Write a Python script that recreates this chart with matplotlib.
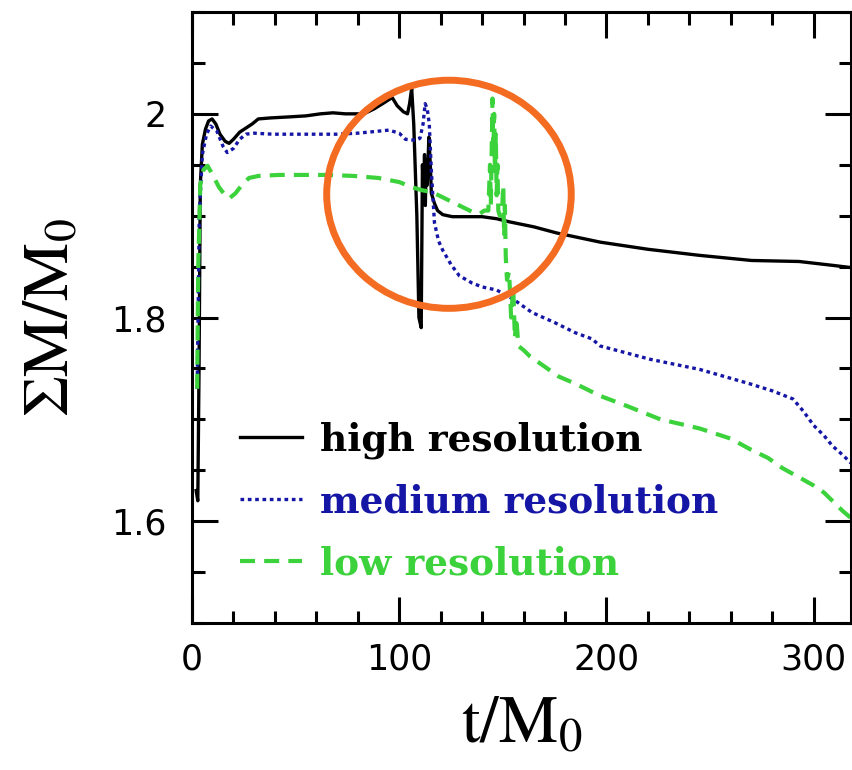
import numpy as np
import matplotlib
matplotlib.use("Agg")
import matplotlib.pyplot as plt
from matplotlib.patches import Ellipse
from matplotlib.ticker import MultipleLocator, FixedLocator

plt.rcParams["mathtext.fontset"] = "stix"

# total mass vs time for the three grid resolutions
t_high = [2.0, 2.8, 3.4, 4.0, 5.0, 6.5, 8, 9.7, 11.5, 13.5, 16, 17.9, 20, 23, 26, 29, 32,
          38, 47, 55, 62, 68, 74, 79, 82, 84, 88, 92, 96.6, 99, 102, 104, 105, 106, 107,
          108.5, 109.5, 110.6, 111.2, 111.8, 112.2, 112.6, 113, 113.5, 114.3, 115, 115.5,
          117, 118.5, 121, 125.6, 133, 140, 147, 153, 165, 176, 197, 220, 245, 270, 293,
          310, 318]
m_high = [1.63, 1.62, 1.75, 1.93, 1.97, 1.985, 1.993, 1.995, 1.99, 1.98, 1.973, 1.971,
          1.975, 1.982, 1.986, 1.99, 1.995, 1.996, 1.997, 1.998, 2.0, 2.001, 2.0, 2.0, 2.0,
          2.001, 2.005, 2.01, 2.016, 2.008, 2.002, 2.0, 2.01, 2.025, 1.99, 1.90, 1.80, 1.79,
          1.95, 1.915, 1.96, 1.91, 1.955, 1.93, 1.977, 1.95, 1.922, 1.912, 1.905, 1.901,
          1.899, 1.899, 1.899, 1.897, 1.894, 1.889, 1.883, 1.874, 1.867, 1.861, 1.856,
          1.855, 1.851, 1.849]

t_med = [2.5, 3.5, 5, 7, 9, 12, 15, 17, 20, 23, 26, 30, 39, 50, 60, 70, 80, 90, 95, 100,
         103, 108, 110, 111.5, 112.5, 113.5, 114.5, 115.5, 117, 119, 121, 125, 129, 135,
         140, 147, 155, 164, 175, 185, 193, 197, 210, 221, 233, 245, 257, 269, 280, 290,
         295, 300, 305, 309, 314, 318]
m_med = [1.73, 1.90, 1.96, 1.98, 1.988, 1.983, 1.968, 1.962, 1.966, 1.975, 1.98, 1.981,
         1.98, 1.98, 1.98, 1.98, 1.981, 1.983, 1.984, 1.981, 1.975, 1.974, 1.976, 1.99,
         2.01, 2.005, 1.99, 1.944, 1.893, 1.875, 1.866, 1.852, 1.841, 1.834, 1.83, 1.827,
         1.818, 1.805, 1.795, 1.785, 1.779, 1.772, 1.765, 1.759, 1.754, 1.749, 1.742,
         1.735, 1.728, 1.72, 1.708, 1.694, 1.684, 1.674, 1.665, 1.657]

t_low = [2.5, 3.0, 4.0, 5.5, 7.5, 10, 13, 16, 18, 21, 24, 27.5, 32, 42, 55, 66, 78, 90,
         100, 106, 111, 116, 120, 124, 128, 132, 136, 139, 141, 143, 143.8, 144.2, 145,
         145.4, 145.8, 146.2, 146.6, 147, 147.4, 147.8, 148.5, 149.5, 150.2, 150.6, 151,
         151.4, 152, 153, 154, 155, 155.8, 156.5, 157.5, 160, 163, 170, 177, 185, 197, 210,
         226, 245, 260, 269, 278, 285, 293, 300, 305, 309, 314, 318]
m_low = [1.73, 1.85, 1.93, 1.945, 1.949, 1.94, 1.928, 1.92, 1.917, 1.922, 1.93, 1.937,
         1.939, 1.94, 1.94, 1.94, 1.939, 1.937, 1.933, 1.928, 1.925, 1.923, 1.919, 1.915,
         1.911, 1.907, 1.903, 1.902, 1.905, 1.905, 1.95, 1.91, 2.015, 1.96, 2.0, 1.94, 1.98,
         1.92, 1.95, 1.905, 1.90, 1.90, 1.93, 1.88, 1.91, 1.86, 1.837, 1.845, 1.80, 1.83,
         1.78, 1.80, 1.772, 1.768, 1.762, 1.752, 1.742, 1.735, 1.723, 1.713, 1.70, 1.691,
         1.681, 1.671, 1.662, 1.652, 1.643, 1.635, 1.628, 1.62, 1.61, 1.603]

labels = ["high resolution", "medium resolution", "low resolution"]
colors = ["black", "#1616a6", "#3cd23c"]

fig = plt.figure(figsize=(8.52, 7.70), dpi=100)
ax = fig.add_axes([192 / 852, 1 - 623 / 770, 659 / 852, 611 / 770])

ax.plot(t_high, m_high, color=colors[0], lw=2.4, label=labels[0])
ax.plot(t_med, m_med, color=colors[1], lw=2.4, dashes=(1.1, 1.1), label=labels[1])
ax.plot(t_low, m_low, color=colors[2], lw=3.0, dashes=(3.6, 2.2), label=labels[2])

ax.set_xlim(0, 318)
ax.set_ylim(1.5, 2.1)

ax.xaxis.set_major_locator(MultipleLocator(100))
ax.xaxis.set_minor_locator(MultipleLocator(20))
ax.yaxis.set_major_locator(FixedLocator([1.6, 1.8, 2.0]))
ax.yaxis.set_minor_locator(MultipleLocator(0.05))
ax.set_yticklabels(["1.6", "1.8", "2"])

ax.tick_params(which="both", direction="in", top=True, right=True, width=2.2,
               labelsize=25, pad=14)
ax.tick_params(axis="y", pad=18)
ax.tick_params(which="major", length=19)
ax.tick_params(which="minor", length=9)
for s in ax.spines.values():
    s.set_linewidth(2.2)

ax.set_xlabel(r"$\mathrm{t/M_0}$", fontsize=48)
ax.xaxis.set_label_coords(0.5, -0.11)
ax.set_ylabel(r"$\Sigma\mathrm{M/M_0}$", fontsize=47, va="center")
ax.yaxis.set_label_coords(-0.215, 0.5)

leg = ax.legend(loc="upper left", bbox_to_anchor=(0.073, 0.33), frameon=False,
                borderpad=0, borderaxespad=0, handlelength=1.65, handletextpad=0.48,
                labelspacing=0.66, prop={"family": "DejaVu Serif", "weight": "bold",
                                         "size": 27})
for txt, c in zip(leg.get_texts(), colors):
    txt.set_color(c)

# highlight around the merger
ax.add_patch(Ellipse((124, 1.921), 118, 0.224, fill=False, ec="#f36c21", lw=5,
                     clip_on=False, zorder=5))

fig.savefig("out.png", dpi=100)
